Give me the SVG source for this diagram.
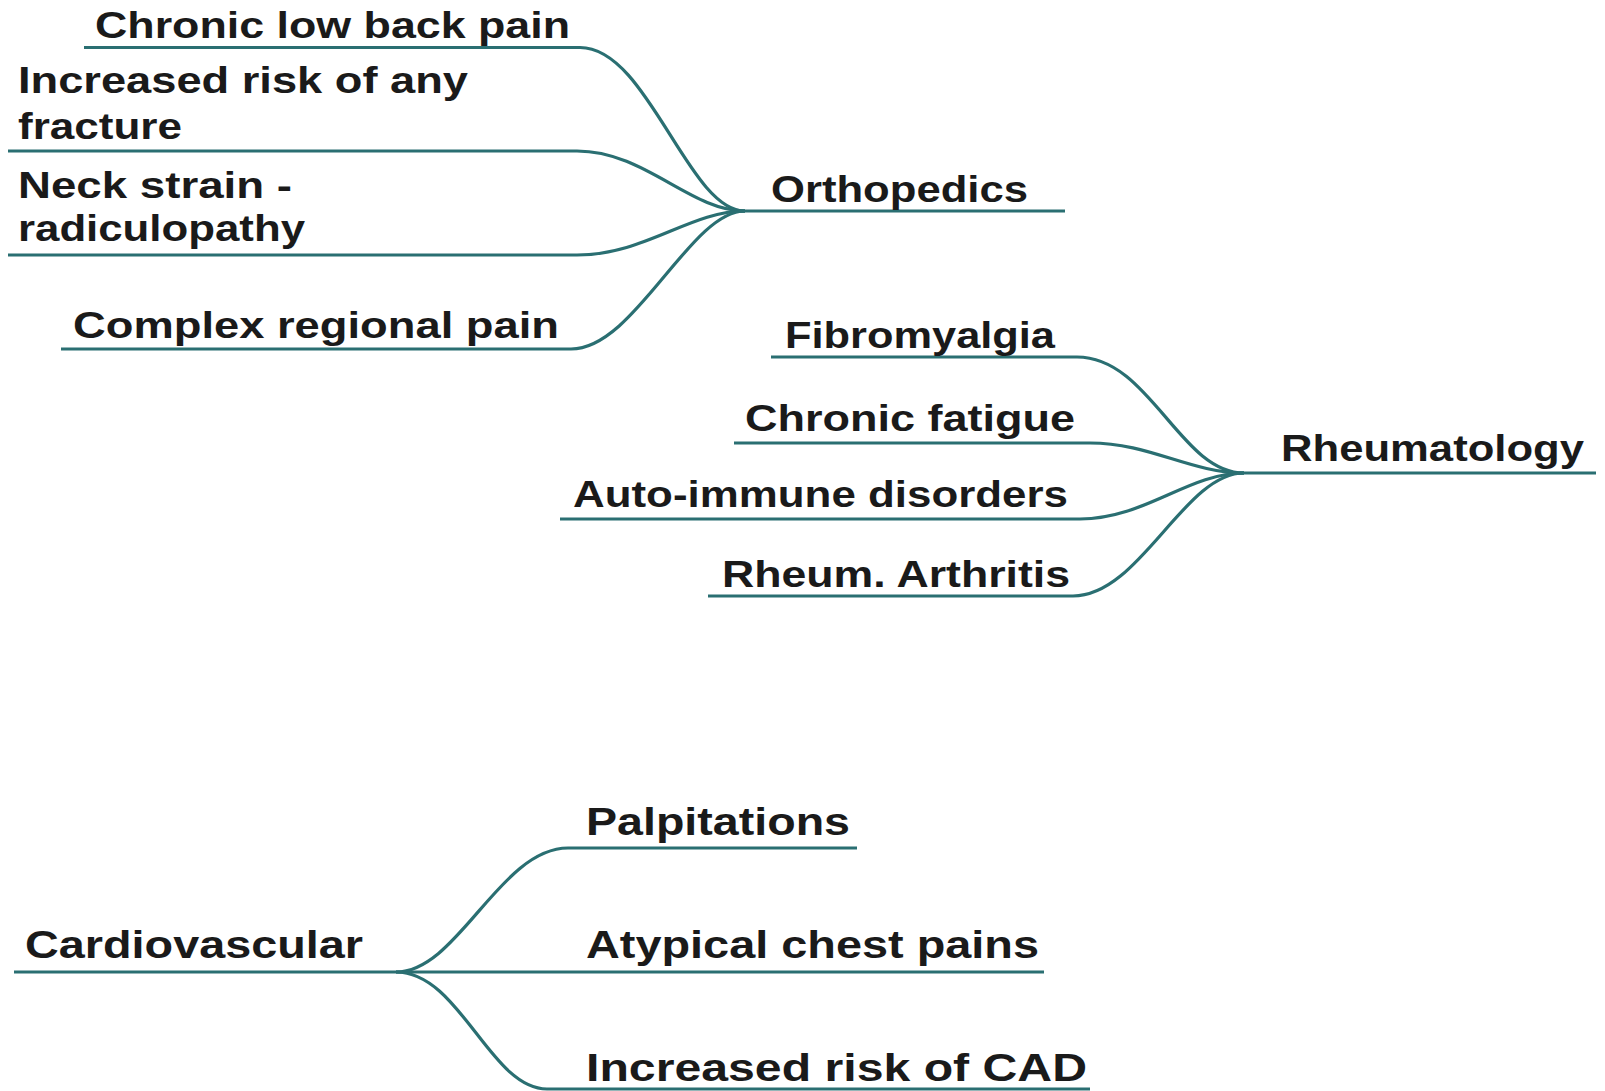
<svg xmlns="http://www.w3.org/2000/svg" width="1605" height="1091" viewBox="0 0 1605 1091">
<style>
.t{font-family:"Liberation Sans",Arial,Helvetica,sans-serif;font-weight:bold;fill:#1a1a1a;font-size:36px}
.c{font-size:39px}
.ln{fill:none;stroke:#2a6f72;stroke-width:3.2;stroke-linecap:butt}
</style>
<rect width="1605" height="1091" fill="#ffffff"/>
<g id="connectors">
<path class="ln" d="M84,47.5 L580,47.5 C648,47.5 688,211 745,211"/>
<path class="ln" d="M8,151 L577,151 C645,151 690,211 745,211"/>
<path class="ln" d="M8,255 L577,255 C645,255 690,211 745,211"/>
<path class="ln" d="M61,349 L571,349 C635,349 690,211 745,211"/>
<path class="ln" d="M745,211 L1065,211"/>
<path class="ln" d="M771,357 L1077,357 C1150,357 1180,473 1244,473"/>
<path class="ln" d="M734,443 L1090,443 C1150,443 1190,473 1244,473"/>
<path class="ln" d="M560,519 L1080,519 C1145,519 1188,473 1244,473"/>
<path class="ln" d="M708,596 L1073,596 C1140,596 1184,473 1244,473"/>
<path class="ln" d="M1244,473 L1596,473"/>
<path class="ln" d="M14,972 L396,972"/>
<path class="ln" d="M396,972 C458,972 500,848 568,848 L857,848"/>
<path class="ln" d="M396,972 L1044,972"/>
<path class="ln" d="M396,972 C460,972 490,1089 547,1089 L1090,1089"/>
</g>
<g id="orthopedics"><text class="t" x="771" y="202" textLength="257" lengthAdjust="spacingAndGlyphs">Orthopedics</text></g>
<g id="chronic-low-back-pain"><text class="t" x="95" y="38" textLength="475" lengthAdjust="spacingAndGlyphs">Chronic low back pain</text></g>
<g id="increased-risk-fracture"><text class="t" x="18" y="93" textLength="450" lengthAdjust="spacingAndGlyphs">Increased risk of any</text><text class="t" x="18" y="139" textLength="164" lengthAdjust="spacingAndGlyphs">fracture</text></g>
<g id="neck-strain"><text class="t" x="18" y="198" textLength="274" lengthAdjust="spacingAndGlyphs">Neck strain -</text><text class="t" x="18" y="241" textLength="287" lengthAdjust="spacingAndGlyphs">radiculopathy</text></g>
<g id="complex-regional-pain"><text class="t" x="73" y="338" textLength="486" lengthAdjust="spacingAndGlyphs">Complex regional pain</text></g>
<g id="rheumatology"><text class="t" x="1281" y="461" textLength="303" lengthAdjust="spacingAndGlyphs">Rheumatology</text></g>
<g id="fibromyalgia"><text class="t" x="785" y="348" textLength="270" lengthAdjust="spacingAndGlyphs">Fibromyalgia</text></g>
<g id="chronic-fatigue"><text class="t" x="745" y="431" textLength="330" lengthAdjust="spacingAndGlyphs">Chronic fatigue</text></g>
<g id="auto-immune"><text class="t" x="573" y="507" textLength="495" lengthAdjust="spacingAndGlyphs">Auto-immune disorders</text></g>
<g id="rheum-arthritis"><text class="t" x="722" y="587" textLength="348" lengthAdjust="spacingAndGlyphs">Rheum. Arthritis</text></g>
<g id="cardiovascular"><text class="t c" x="25" y="958" textLength="338" lengthAdjust="spacingAndGlyphs">Cardiovascular</text></g>
<g id="palpitations"><text class="t c" x="586" y="835" textLength="264" lengthAdjust="spacingAndGlyphs">Palpitations</text></g>
<g id="atypical-chest-pains"><text class="t c" x="586" y="958" textLength="453" lengthAdjust="spacingAndGlyphs">Atypical chest pains</text></g>
<g id="increased-risk-cad"><text class="t c" x="586" y="1081" textLength="501" lengthAdjust="spacingAndGlyphs">Increased risk of CAD</text></g>
</svg>
